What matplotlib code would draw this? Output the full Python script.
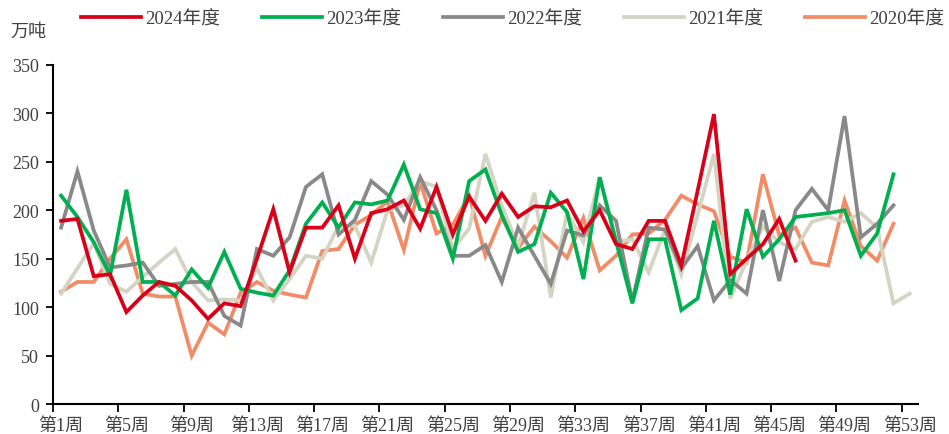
import numpy as np
import matplotlib
matplotlib.use('Agg')
from matplotlib import pyplot as plt

plt.rcParams['font.family'] = ['Liberation Serif', 'Noto Sans CJK SC', 'DejaVu Sans']

# weekly values, 万吨
y2024 = [189, 191, 132, 134, 95, 112, 126, 122, 107, 88, 104, 101, 150, 201, 136, 182,
         182, 205, 150, 197, 201, 210, 181, 224, 175, 214, 189, 217, 193, 204, 203, 210,
         178, 200, 165, 160, 189, 189, 143, 220, 299, 134, 150, 165, 191, 148]
y2023 = [215, 193, 167, 133, 221, 126, 126, 112, 139, 120, 157, 119, 115, 112, 138, 186,
         208, 182, 208, 206, 210, 247, 201, 197, 150, 230, 242, 195, 157, 165, 218, 198,
         129, 234, 168, 104, 170, 170, 97, 109, 189, 113, 201, 152, 170, 193, 195, 197,
         200, 153, 176, 237]
y2022 = [182, 240, 179, 141, 143, 146, 122, 124, 126, 126, 91, 81, 160, 153, 172, 224,
         237, 175, 190, 230, 216, 190, 234, 200, 153, 153, 164, 126, 182, 153, 124, 179,
         174, 205, 189, 106, 182, 180, 140, 163, 107, 128, 114, 200, 127, 200, 222, 200,
         297, 172, 186, 205]
y2021 = [114, 140, 166, 124, 116, 131, 146, 160, 126, 107, 108, 107, 140, 107, 129, 153,
         150, 184, 184, 146, 200, 205, 230, 224, 160, 181, 258, 205, 163, 218, 110, 198,
         167, 234, 167, 170, 136, 180, 134, 195, 258, 109, 148, 183, 167, 160, 188, 193,
         188, 197, 182, 104, 114]
y2020 = [116, 126, 126, 150, 170, 114, 111, 111, 50, 84, 72, 115, 126, 117, 113, 110,
         158, 160, 185, 195, 209, 159, 229, 176, 185, 215, 153, 193, 161, 183, 168, 151,
         192, 138, 153, 175, 176, 190, 215, 206, 199, 152, 146, 237, 174, 182, 146, 143,
         210, 163, 148, 186]

series = [('2024年度', y2024, '#DA0019'),
          ('2023年度', y2023, '#00AF50'),
          ('2022年度', y2022, '#898989'),
          ('2021年度', y2021, '#D4D4C2'),
          ('2020年度', y2020, '#F28C66')]

tick_weeks = list(range(1, 54, 4))
tick_labels = ['第%d周' % w for w in tick_weeks]


def main():
    fig = plt.figure(figsize=(9.49, 4.35), dpi=100)
    ax = fig.add_axes([0.0558, 0.0685, 0.9115, 0.7805])

    handles = []
    for z, (name, vals, col) in enumerate(series):
        x = np.arange(len(vals))
        h, = ax.plot(x, vals, color=col, lw=2.7, solid_joinstyle='miter',
                     zorder=10 - z, label=name)
        handles.append(h)

    ax.set_xlim(-0.5, 52.5)
    ax.set_ylim(0, 350)
    ax.set_yticks(np.arange(0, 351, 50))

    # tick marks on category boundaries, labels on category centres
    ax.set_xticks(np.arange(-0.5, 52, 4))
    ax.set_xticklabels([])
    ax.set_xticks(np.array(tick_weeks) - 1, minor=True)
    ax.set_xticklabels(tick_labels, minor=True)
    ax.tick_params(axis='x', which='major', length=6, width=1.3, color='black')
    ax.tick_params(axis='x', which='minor', length=0, pad=9, labelsize=13,
                   labelcolor='#404040')
    ax.tick_params(axis='y', length=5, width=1.3, pad=5, labelsize=13,
                   labelcolor='#404040')

    for s in ['top', 'right']:
        ax.spines[s].set_visible(False)
    for s in ['left', 'bottom']:
        ax.spines[s].set_linewidth(1.5)
        ax.spines[s].set_color('black')

    fig.text(0.011, 0.915, '万吨', fontsize=13, color='#404040')

    fig.legend(handles=handles, loc='upper left', bbox_to_anchor=(0.076, 0.995),
               ncol=5, frameon=False, fontsize=13.5, handlelength=3.2,
               handletextpad=0.2, columnspacing=2.25, borderpad=0,
               labelcolor='#404040')

    fig.savefig('out.png', dpi=100)


if __name__ == '__main__':
    main()
